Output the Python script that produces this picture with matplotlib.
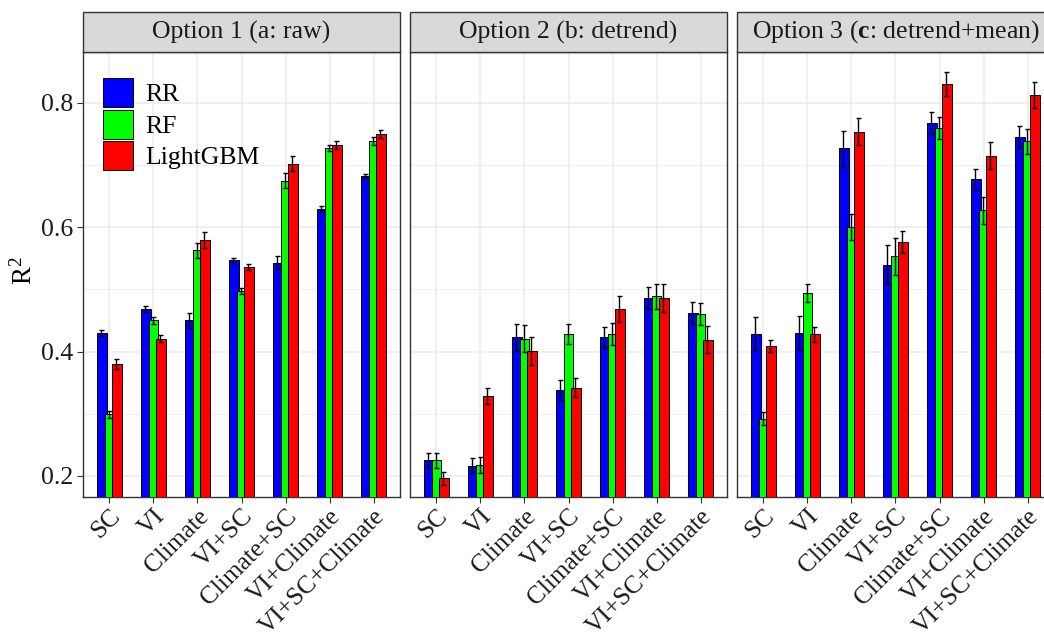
import numpy as np
import matplotlib
matplotlib.use('Agg')
import matplotlib.pyplot as plt
from matplotlib.patches import Rectangle

plt.rcParams['font.family'] = ['Liberation Serif', 'DejaVu Serif']
plt.rcParams['mathtext.fontset'] = 'custom'
plt.rcParams['mathtext.rm'] = 'Liberation Serif'
plt.rcParams['mathtext.bf'] = 'Liberation Serif:bold'
plt.rcParams['mathtext.it'] = 'Liberation Serif:italic'

fs = 18.5

features = ['SC', 'VI', 'Climate', 'VI+SC', 'Climate+SC', 'VI+Climate', 'VI+SC+Climate']
models = ['RR', 'RF', 'LightGBM']
colors = ['#0000FF', '#00FF00', '#FF0000']
titles = ['Option 1 (a: raw)', 'Option 2 (b: detrend)', r'Option 3 ($\mathbf{c}$: detrend+mean)']

# mean R2 per feature set, one list per model
raw_rr = [0.430, 0.468, 0.450, 0.547, 0.543, 0.630, 0.682]
raw_rf = [0.299, 0.450, 0.563, 0.497, 0.675, 0.727, 0.739]
raw_lgb = [0.380, 0.421, 0.579, 0.536, 0.702, 0.732, 0.750]
raw_rr_sd = [0.005, 0.005, 0.012, 0.004, 0.010, 0.004, 0.003]
raw_rf_sd = [0.006, 0.005, 0.012, 0.005, 0.012, 0.005, 0.006]
raw_lgb_sd = [0.008, 0.005, 0.013, 0.005, 0.012, 0.006, 0.006]

det_rr = [0.225, 0.216, 0.423, 0.338, 0.423, 0.486, 0.462]
det_rf = [0.225, 0.218, 0.421, 0.428, 0.428, 0.489, 0.460]
det_lgb = [0.196, 0.328, 0.401, 0.342, 0.469, 0.486, 0.419]
det_rr_sd = [0.012, 0.012, 0.022, 0.016, 0.017, 0.018, 0.018]
det_rf_sd = [0.012, 0.013, 0.022, 0.016, 0.018, 0.020, 0.018]
det_lgb_sd = [0.010, 0.013, 0.022, 0.015, 0.021, 0.022, 0.022]

mean_rr = [0.428, 0.430, 0.727, 0.540, 0.768, 0.677, 0.745]
mean_rf = [0.292, 0.494, 0.600, 0.553, 0.760, 0.627, 0.738]
mean_lgb = [0.409, 0.428, 0.754, 0.576, 0.831, 0.715, 0.813]
mean_rr_sd = [0.027, 0.028, 0.028, 0.032, 0.018, 0.017, 0.018]
mean_rf_sd = [0.010, 0.014, 0.021, 0.030, 0.018, 0.021, 0.020]
mean_lgb_sd = [0.010, 0.012, 0.022, 0.018, 0.019, 0.022, 0.021]

panels = [
    ([raw_rr, raw_rf, raw_lgb], [raw_rr_sd, raw_rf_sd, raw_lgb_sd]),
    ([det_rr, det_rf, det_lgb], [det_rr_sd, det_rf_sd, det_lgb_sd]),
    ([mean_rr, mean_rf, mean_lgb], [mean_rr_sd, mean_rf_sd, mean_lgb_sd]),
]

fig = plt.figure(figsize=(10.44, 6.4), dpi=100)

W, H = 1044.0, 640.0
lefts = [83, 410, 737]
pw = 317
top, bottom = 52, 497
strip_h = 40

x = np.arange(len(features))
bw = 0.22
off = 0.17

for k in range(3):
    ax = fig.add_axes([lefts[k] / W, 1 - bottom / H, pw / W, (bottom - top) / H])
    vals, sds = panels[k]
    handles = []
    for j in range(3):
        xx = x + (j - 1) * off
        b = ax.bar(xx, vals[j], width=bw, color=colors[j], edgecolor='black',
                   linewidth=0.7, zorder=3, label=models[j])
        handles.append(b)
    for j in range(3):
        xx = x + (j - 1) * off - 0.015
        ax.errorbar(xx, vals[j], yerr=sds[j], fmt='none', ecolor='black',
                    elinewidth=1.0, capsize=1.8, capthick=1.0, zorder=4)

    ax.set_xlim(-0.6, 6.6)
    ax.set_ylim(0.166, 0.882)
    ax.set_yticks([0.2, 0.4, 0.6, 0.8])
    ax.set_yticks([0.3, 0.5, 0.7], minor=True)
    ax.set_xticks(x)
    ax.grid(True, which='major', color='#EBEBEB', linewidth=1.1, zorder=0)
    ax.grid(True, which='minor', axis='y', color='#EBEBEB', linewidth=0.6, zorder=0)
    ax.set_axisbelow(True)
    ax.tick_params(axis='y', which='minor', length=0)
    ax.tick_params(which='major', length=4, width=0.8, color='#333333',
                   labelsize=fs, labelcolor='#1a1a1a', pad=3)
    ax.tick_params(axis='x', pad=2)
    ax.set_xticklabels(features, rotation=45, ha='right', rotation_mode='anchor', fontsize=18.3)
    if k > 0:
        ax.set_yticklabels([])
        ax.tick_params(axis='y', length=0)
    for s in ax.spines.values():
        s.set_color('#333333')
        s.set_linewidth(1.0)

    # facet strip
    sh = strip_h / (bottom - top)
    ax.add_patch(Rectangle((0, 1), 1, sh, transform=ax.transAxes, facecolor='#D9D9D9',
                           edgecolor='#333333', linewidth=1.0, clip_on=False, zorder=5))
    ax.text(0.5, 1 + sh / 2, titles[k], transform=ax.transAxes, ha='center', va='center',
            fontsize=fs, color='#1a1a1a', zorder=6)

    if k == 0:
        ax.legend(handles=handles, loc='upper left', bbox_to_anchor=(20 / pw, 1 - 26 / (bottom - top)),
                  frameon=False, fontsize=fs, handlelength=1.17, handleheight=1.36,
                  labelspacing=0.1, handletextpad=0.47, borderpad=0, borderaxespad=0)

fig.text(24 / W, 1 - 271 / H, 'R$^2$', rotation=90, ha='center', va='center', fontsize=19.5)

plt.savefig('out.png', dpi=100)
